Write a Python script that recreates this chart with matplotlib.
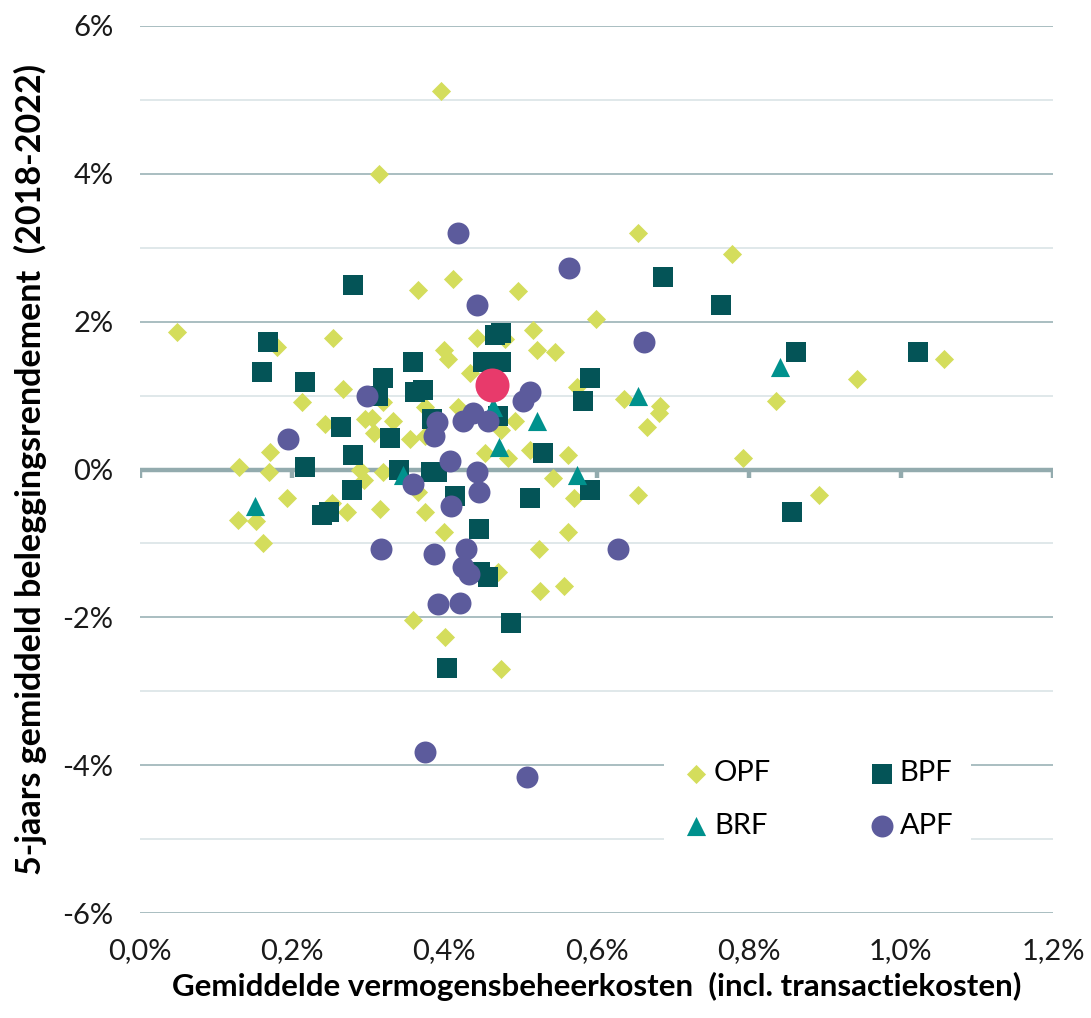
import matplotlib.pyplot as plt
from matplotlib.ticker import FuncFormatter

plt.rcParams['font.family'] = ['Lato', 'DejaVu Sans']

# kosten (%) en rendement (%) per fonds
opf_x = [0.049, 0.130, 0.129, 0.153, 0.162, 0.171, 0.170, 0.180, 0.193, 0.213,
         0.243, 0.254, 0.267, 0.272, 0.253, 0.289, 0.295, 0.296, 0.305, 0.307,
         0.314, 0.316, 0.320, 0.320, 0.333, 0.355, 0.359, 0.366, 0.366, 0.375,
         0.375, 0.375, 0.395, 0.399, 0.405, 0.399, 0.401, 0.412, 0.418, 0.434,
         0.443, 0.454, 0.471, 0.474, 0.474, 0.480, 0.484, 0.493, 0.497, 0.513,
         0.517, 0.522, 0.525, 0.526, 0.543, 0.546, 0.557, 0.562, 0.563, 0.570,
         0.575, 0.599, 0.636, 0.654, 0.655, 0.667, 0.683, 0.682, 0.778, 0.793,
         0.836, 0.892, 0.942, 1.057]
opf_y = [1.86, 0.04, -0.68, -0.70, -1.00, 0.23, -0.04, 1.66, -0.39, 0.91,
         0.62, 1.78, 1.09, -0.58, -0.45, 0.00, -0.14, 0.68, 0.70, 0.50,
         4.00, -0.54, 0.91, -0.04, 0.65, 0.41, -2.03, 2.43, -0.30, 0.45,
         -0.58, 0.84, 5.12, 1.62, 1.49, -0.84, -2.26, 2.58, 0.85, 1.31,
         1.78, 0.22, -1.39, 0.54, -2.70, 1.76, 0.16, 0.65, 2.42, 0.27,
         1.89, 1.62, -1.07, -1.65, -0.11, 1.59, -1.57, 0.19, -0.84, -0.39,
         1.11, 2.03, 0.95, 3.20, -0.34, 0.58, 0.86, 0.77, 2.92, 0.16,
         0.93, -0.34, 1.23, 1.49]

bpf_x = [0.280, 0.168, 0.161, 0.217, 0.320, 0.359, 0.313, 0.362, 0.372, 0.264,
         0.329, 0.384, 0.280, 0.217, 0.341, 0.382, 0.391, 0.279, 0.239, 0.249,
         0.467, 0.474, 0.451, 0.474, 0.470, 0.530, 0.592, 0.582, 0.687, 0.764,
         0.862, 1.022, 0.414, 0.445, 0.513, 0.592, 0.447, 0.457, 0.488, 0.404,
         0.857]
bpf_y = [2.50, 1.73, 1.32, 1.18, 1.24, 1.45, 0.99, 1.05, 1.08, 0.57,
         0.43, 0.68, 0.19, 0.04, -0.01, -0.03, -0.04, -0.28, -0.61, -0.58,
         1.82, 1.85, 1.46, 1.46, 0.72, 0.22, 1.24, 0.92, 2.61, 2.23,
         1.59, 1.59, -0.36, -0.80, -0.39, -0.28, -1.39, -1.45, -2.07, -2.68,
         -0.57]

brf_x = [0.151, 0.346, 0.464, 0.472, 0.522, 0.575, 0.654, 0.841]
brf_y = [-0.50, -0.08, 0.84, 0.31, 0.65, -0.08, 1.00, 1.39]

apf_x = [0.195, 0.299, 0.359, 0.386, 0.391, 0.407, 0.418, 0.424, 0.438, 0.443,
         0.443, 0.446, 0.409, 0.457, 0.503, 0.513, 0.564, 0.662, 0.317, 0.386,
         0.429, 0.425, 0.432, 0.392, 0.421, 0.628, 0.374, 0.509]
apf_y = [0.41, 0.99, -0.20, 0.45, 0.64, 0.11, 3.20, 0.65, 0.77, 2.23,
         -0.03, -0.30, -0.50, 0.65, 0.92, 1.05, 2.73, 1.73, -1.08, -1.14,
         -1.08, -1.32, -1.42, -1.82, -1.80, -1.08, -3.82, -4.16]

# gemiddelde (gewogen) punt
gem_x = [0.462]
gem_y = [1.14]

x_ticks = [0.0, 0.2, 0.4, 0.6, 0.8, 1.0, 1.2]
y_ticks = [-6, -4, -2, 0, 2, 4, 6]

fig = plt.figure(figsize=(10.91, 10.18), dpi=100)
ax = fig.add_axes([0.1283, 0.1031, 0.8369, 0.8714])

# rasterlijnen
for v in range(-6, 7):
    if v == 0:
        continue
    c = '#a3b9bc' if v % 2 == 0 else '#dde6e8'
    ax.axhline(v, color=c, lw=1.3, zorder=0)
ax.axhline(0, color='#93abae', lw=3.2, zorder=1)
ax.vlines(x_ticks, -0.115, 0, color='#93abae', lw=3.2, zorder=1)

h_opf = ax.scatter(opf_x, opf_y, marker='D', s=95, color='#d4dd5c', lw=0, zorder=2, label='OPF')
h_bpf = ax.scatter(bpf_x, bpf_y, marker='s', s=215, color='#045457', lw=0, zorder=3, label='BPF')
h_brf = ax.scatter(brf_x, brf_y, marker='^', s=190, color='#00918d', lw=0, zorder=3, label='BRF')
h_apf = ax.scatter(apf_x, apf_y, marker='o', s=250, color='#5c5b9c', lw=0, zorder=4, label='APF')
ax.scatter(gem_x, gem_y, marker='o', s=600, color='#e83a6b', lw=0, zorder=5)

ax.set_xlim(0, 1.2)
ax.set_ylim(-6, 6)
ax.set_xticks(x_ticks)
ax.set_yticks(y_ticks)
ax.xaxis.set_major_formatter(FuncFormatter(lambda v, p: f'{v:.1f}%'.replace('.', ',')))
ax.yaxis.set_major_formatter(FuncFormatter(lambda v, p: f'{v:.0f}%'))
ax.tick_params(axis='both', length=0, labelsize=21, colors='#1a1a1a')
ax.tick_params(axis='y', pad=19)
ax.tick_params(axis='x', pad=18)
for s in ax.spines.values():
    s.set_visible(False)

ax.set_xlabel('Gemiddelde vermogensbeheerkosten  (incl. transactiekosten)',
              fontsize=22.5, fontweight='bold', labelpad=6)
ax.set_ylabel('5-jaars gemiddeld beleggingsrendement  (2018-2022)',
              fontsize=24.5, fontweight='bold', labelpad=11)

leg = ax.legend([h_opf, h_brf, h_bpf, h_apf], ['OPF', 'BRF', 'BPF', 'APF'],
                ncol=2, loc='center', bbox_to_anchor=(0.742, 0.128), fontsize=21,
                frameon=True, facecolor='white', edgecolor='none', framealpha=1,
                handlelength=1.0, handletextpad=0.1, columnspacing=3.3,
                labelspacing=0.9, borderpad=0.6, scatterpoints=1)
leg.get_frame().set_boxstyle('square', pad=0)

fig.savefig('out.png', dpi=100)
